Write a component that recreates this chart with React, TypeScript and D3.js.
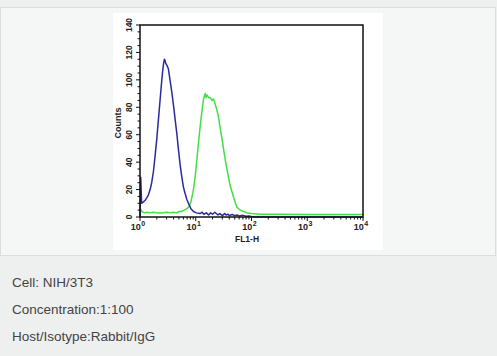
import React from "react";
import * as d3 from "d3";

// FL1-H value, counts
const isotypeX = [1.0, 1.03, 1.07, 1.15, 1.23, 1.32, 1.41, 1.52, 1.62, 1.74, 1.86, 2.0, 2.14, 2.3, 2.46, 2.56, 2.65, 2.74, 2.82, 2.9, 3.0, 3.1, 3.23, 3.45, 3.72, 4.0, 4.27, 4.6, 4.9, 5.25, 5.63, 6.0, 6.46, 6.9, 7.4, 8.2, 9.1, 10.3, 12, 13, 14, 15.5, 17, 18.5, 20, 22, 25, 27, 30, 33, 35, 38, 40, 45, 50, 55, 60, 70, 80, 90, 100, 120, 10000];
const isotypeY = [0, 29, 10, 11, 12, 14, 16, 20, 25, 33, 44, 57, 71, 86, 100, 107, 112, 115, 114, 112, 111, 110, 108, 100, 91, 81, 71, 60, 49, 38, 29, 22, 17, 13, 10, 6, 4, 3, 2.5, 3.5, 2, 3, 1.5, 3, 2, 3.5, 1.5, 2.5, 1, 2.5, 1.5, 2, 1, 1.8, 1, 1.5, 0.8, 1.2, 0.5, 0.8, 0.3, 0, 0];

const stainedX = [1.0, 1.02, 1.08, 1.2, 1.35, 1.5, 1.75, 2.0, 2.5, 3.0, 3.5, 4.0, 4.5, 5.0, 5.6, 6.2, 6.8, 7.4, 8.2, 9.1, 9.8, 10.5, 11.2, 12.0, 12.9, 13.8, 14.3, 14.8, 15.3, 15.9, 17.0, 18.2, 19.5, 20.9, 22.4, 24.0, 25.8, 27.6, 29.6, 31.7, 34.1, 36.6, 39.1, 41.9, 44.9, 48.0, 51.5, 55.2, 59.0, 63.2, 72, 83.6, 100, 145, 300, 1000, 3000, 10000];
const stainedY = [0, 6, 4, 3, 3.5, 3, 3.5, 3, 3, 3.5, 3, 3.5, 3, 4, 4, 5, 6, 7, 11, 20, 30, 42, 54, 66, 77, 86, 88, 90, 87, 89, 87, 87, 85, 86, 82, 78, 72, 64, 57, 49, 41, 34, 28, 22, 18, 14, 10, 7, 6, 5, 4, 3, 2.5, 2, 2, 1.8, 1.8, 1.8];

const yTicks = [0, 20, 40, 60, 80, 100, 120, 140];
const xDecades = [0, 1, 2, 3, 4];
const infoLines = ["Cell: NIH/3T3", "Concentration:1:100", "Host/Isotype:Rabbit/IgG"];

export default function App() {
  const W = 497, H = 356;
  const left = 140, right = 363, top = 25, bottom = 217;
  const x = d3.scaleLog().domain([1, 10000]).range([left, right]);
  const y = d3.scaleLinear().domain([0, 140]).range([bottom, top]);
  const line = d3.line<number>().curve(d3.curveLinear);
  const isoPath = line(isotypeX.map((v, i) => [x(v), y(isotypeY[i])] as any) as any);
  const stPath = line(stainedX.map((v, i) => [x(v), y(stainedY[i])] as any) as any);

  const yMinor = d3.range(0, 141, 5);
  const xMinor: number[] = [];
  for (let d = 0; d < 4; d++) for (let m = 2; m <= 9; m++) xMinor.push(m * Math.pow(10, d));

  const font = "Arial, 'Liberation Sans', Helvetica, sans-serif";

  return (
    <svg width={W} height={H} style={{ position: "absolute", left: 0, top: 0, display: "block" }}>
      <rect x={0} y={0} width={W} height={H} fill="#eeefef" />
      <rect x={0.5} y={7.5} width={495} height={248} fill="#f5f6f6" stroke="#dcdddd" />
      <rect x={113} y={13} width={270} height={237} fill="#ffffff" />
      {/* curves */}
      <path d={stPath || ""} fill="none" stroke="#45de45" strokeWidth={1.5} strokeLinejoin="round" />
      <path d={isoPath || ""} fill="none" stroke="#2a2aa0" strokeWidth={1.5} strokeLinejoin="round" />
      {/* frame */}
      <rect x={left} y={top} width={right - left} height={bottom - top} fill="none" stroke="#111" strokeWidth={1.5} />
      {/* y ticks */}
      {yMinor.map((t) => (
        <line key={"ym" + t} x1={left - (t % 20 === 0 ? 4 : 2.5)} x2={left} y1={y(t)} y2={y(t)} stroke="#111" strokeWidth={1} />
      ))}
      {yTicks.map((t) => (
        <text key={"yl" + t} transform={`translate(${132},${y(t)}) rotate(-90)`} textAnchor="middle" fontFamily={font} fontSize={8.5} fontWeight="bold" fill="#222">
          {t}
        </text>
      ))}
      <text transform={`translate(${121},${123}) rotate(-90)`} textAnchor="middle" fontFamily={font} fontSize={9} fontWeight="bold" fill="#222">
        Counts
      </text>
      {/* x ticks */}
      {xMinor.map((t, i) => (
        <line key={"xm" + i} x1={x(t)} x2={x(t)} y1={bottom} y2={bottom + 2.5} stroke="#111" strokeWidth={1} />
      ))}
      {xDecades.map((d) => (
        <line key={"xM" + d} x1={x(Math.pow(10, d))} x2={x(Math.pow(10, d))} y1={bottom} y2={bottom + 4} stroke="#111" strokeWidth={1} />
      ))}
      {xDecades.map((d) => (
        <text key={"xl" + d} x={x(Math.pow(10, d)) - 2} y={230} textAnchor="middle" fontFamily={font} fontSize={9} fontWeight="bold" fill="#222">
          10
          <tspan dx={0.5} dy={-4} fontSize={7}>{d}</tspan>
        </text>
      ))}
      <text x={247} y={242} textAnchor="middle" fontFamily={font} fontSize={8.5} fontWeight="bold" fill="#222">
        FL1-H
      </text>
      {infoLines.map((s, i) => (
        <text key={s} x={12} y={287 + i * 27} fontFamily={font} fontSize={13.5} fill="#444">
          {s}
        </text>
      ))}
    </svg>
  );
}
